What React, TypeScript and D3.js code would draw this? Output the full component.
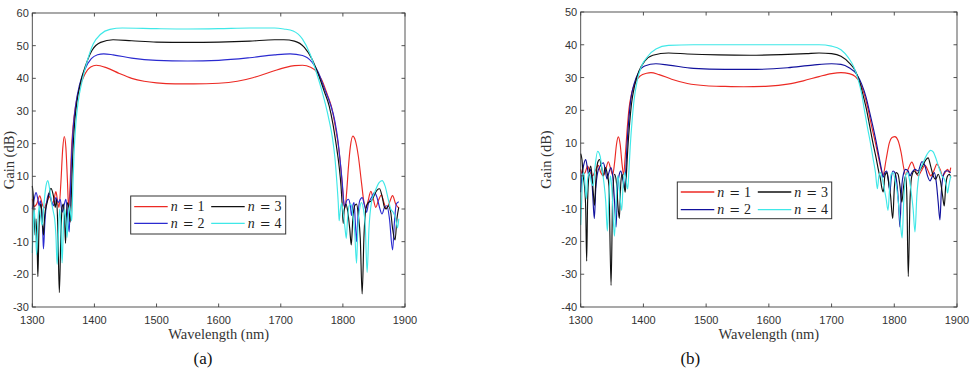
import React from 'react';
import * as d3 from 'd3';

type Pt = [number, number];

// wavelength axis (nm) and gain ticks (dB)
const wavelengthTicks = [1300, 1400, 1500, 1600, 1700, 1800, 1900];
const gainTicksA = [-30, -20, -10, 0, 10, 20, 30, 40, 50, 60];
const gainTicksB = [-40, -30, -20, -10, 0, 10, 20, 30, 40, 50];
const orders = [1, 2, 3, 4];

// panel (a) gain spectra
const gainA_n1: Pt[] = [
  [1300, 3], [1303, 0.8], [1307, 1.5], [1312, 4], [1316, 1.5], [1319, 0.3], [1323, 2], [1328, 3.8],
  [1332, 1.5], [1335, 3], [1338, 5.3], [1341, 2], [1343, 0.5], [1346, 8], [1349, 18.5], [1351.5, 22.2],
  [1354, 19], [1356.5, 9], [1358.5, 0.5], [1361, 8], [1363, 18], [1366, 26], [1370, 32], [1376, 37],
  [1384, 41], [1394, 43.5], [1403, 44], [1420, 43.2], [1440, 41.5], [1460, 40], [1480, 39.1], [1500, 38.6],
  [1530, 38.3], [1560, 38.3], [1600, 38.5], [1630, 39.1], [1655, 40.2], [1680, 41.7], [1705, 43.2],
  [1722, 43.9], [1735, 44], [1748, 43.4], [1758, 42], [1766, 39.5], [1775, 35], [1782, 31], [1788, 25],
  [1793, 19], [1797, 12], [1800, 5], [1802, 1], [1803.5, 0.3], [1806, 5], [1809, 13], [1812, 19],
  [1816, 22.3], [1820, 21], [1825, 16], [1830, 8], [1834, 2], [1837, 0.3], [1840, 2], [1845, 5.4],
  [1849, 3], [1853, 0.5], [1857, 2.5], [1862, 4.3], [1866, 2], [1870, 0.2], [1875, 2], [1880, 4.1],
  [1885, 1.5], [1890, 0.3],
];
const gainA_n2: Pt[] = [
  [1300, 0], [1303, 3], [1306, 5], [1309, 3], [1311, 1], [1313, 2.5], [1315, 0], [1317, -8], [1318, -12.2],
  [1320, -5], [1323, 2], [1327, 4.8], [1331, 2.5], [1334, 1], [1338, 3.5], [1342, 2], [1345, 3], [1348, -1],
  [1351, 1], [1354, 3], [1356, 0], [1358, -5], [1359.5, -7], [1361, 3], [1363, 15], [1366, 25], [1370, 32],
  [1376, 38], [1384, 42.5], [1395, 46], [1405, 47.2], [1415, 47.5], [1430, 47.2], [1460, 46.2], [1500, 45.5],
  [1550, 45.3], [1600, 45.5], [1650, 46.3], [1690, 47.2], [1715, 47.5], [1735, 47], [1750, 45], [1760, 42],
  [1770, 37], [1780, 32], [1787, 27], [1792, 21], [1796, 14], [1799, 8], [1801.5, 2], [1803, 0.5],
  [1806, 2.5], [1809, 3], [1812, 1], [1814, -2], [1816, 1], [1818, 2], [1820, -4], [1822, -10], [1824, -3],
  [1827, 2.5], [1831, 3.5], [1835, 1], [1838, -1], [1841, 1.5], [1846, 3.5], [1851, 5], [1855, 3.5],
  [1859, 0.5], [1863, -1.5], [1867, 0.5], [1871, 1], [1875, -3], [1880, -12.5], [1883, -4], [1886, 1.5],
  [1890, 2.2],
];
const gainA_n3: Pt[] = [
  [1300, 7.1], [1302, 3], [1304.5, -8], [1306, -3], [1308, -13], [1309, -20.7], [1310.5, -8], [1312, 0],
  [1314, 1.5], [1316, -3], [1318, -8], [1320, -2], [1324, 2], [1330, 6.3], [1334, 4], [1337, 0.5], [1339, 3],
  [1341, -5], [1343.5, -25.6], [1346, -8], [1348, 0.5], [1350, 1.5], [1352, -3], [1353.5, -10.5], [1355, -2],
  [1357, 2], [1359, 0], [1361, -4], [1363, 5], [1365, 16], [1368, 26], [1372, 33], [1378, 39], [1386, 44],
  [1396, 48.5], [1410, 51], [1430, 51.8], [1460, 51.5], [1500, 51.1], [1550, 51], [1600, 51.1], [1650, 51.4],
  [1690, 51.8], [1705, 51.8], [1722, 51.4], [1738, 49.5], [1750, 46], [1760, 41.5], [1770, 36], [1778, 31.5],
  [1784, 26], [1789, 20], [1794, 13], [1797, 7], [1799, 1], [1800.5, -4.4], [1802, -0.5], [1805, 1.5],
  [1808, -1], [1811, -6], [1813.5, -11], [1816, -3], [1819, 1], [1822, 1.5], [1825, -2], [1828, -9],
  [1831, -26], [1834, -8], [1837, 0], [1841, 2], [1846, 2.5], [1850, 4], [1855, 5.8], [1859, 6.2], [1863, 4],
  [1867, 0.5], [1870, 0], [1873, 1], [1877, -1], [1880, -6], [1884, -9.5], [1887, -3], [1890, 0.5],
];
const gainA_n4: Pt[] = [
  [1300, -13.5], [1301.5, -5], [1303, 0], [1305, -6], [1307, -14], [1309, -4], [1311, 1], [1313, -2],
  [1316, -5], [1319, 2], [1322, 7], [1325, 8.7], [1328, 6], [1331, 2], [1334, -1], [1336, -3], [1338, -8],
  [1340, -17], [1342, -8], [1344, 0], [1346, -5], [1348, -16.5], [1350, -6], [1352, 0], [1354, -3],
  [1356, -8.7], [1358, -2], [1360, 1], [1362, -2], [1363.5, -3.6], [1365, 5], [1367, 16], [1370, 26],
  [1374, 33], [1380, 39], [1388, 45], [1398, 50.5], [1410, 53.5], [1425, 55], [1445, 55.4], [1500, 55.2],
  [1550, 55.1], [1600, 55.2], [1650, 55.4], [1690, 55.4], [1705, 55.1], [1720, 54.5], [1735, 52],
  [1747, 47.5], [1757, 42], [1765, 37], [1772, 32], [1778, 27], [1783, 22], [1787, 16], [1790, 9],
  [1792.5, 2], [1794, -3.6], [1796, 0], [1798, 1.8], [1801, -2], [1803.5, -6], [1805.5, -9], [1807.5, -3],
  [1810, 1], [1813, 1.5], [1816, -2], [1819, -7], [1822, -16.6], [1824, -6], [1827, 0], [1830, 2], [1833, 0],
  [1836, -5], [1839, -19.4], [1842, -6], [1846, 2], [1852, 5.5], [1858, 8], [1863, 8.7], [1868, 7],
  [1873, 3], [1877, 0], [1881, -1], [1885, -3], [1888, -5.8], [1890, -3],
];

// panel (b) gain spectra
const gainB_n1: Pt[] = [
  [1300, 2], [1303, 0.5], [1307, 1], [1311, 3], [1315, 1], [1319, 0], [1323, 1.5], [1328, 3.2], [1332, 1],
  [1336, 0], [1340, 2], [1344, 4.3], [1348, 2], [1351, 0.3], [1354, 4], [1357, 9.5], [1360, 11.9],
  [1363, 9.5], [1366, 3.5], [1368.5, 0.3], [1371, 6], [1374, 14], [1377, 20.5], [1381, 25], [1387, 28.5],
  [1395, 30.5], [1405, 31.3], [1412, 31.5], [1425, 30.9], [1445, 29.5], [1470, 28.2], [1500, 27.5],
  [1530, 27.3], [1560, 27.2], [1600, 27.4], [1630, 28], [1655, 29], [1680, 30.3], [1700, 31.2], [1715, 31.5],
  [1728, 31.2], [1738, 30.3], [1745, 28.5], [1752, 25], [1758, 20.5], [1764, 15], [1770, 10], [1775, 5.5],
  [1779, 2], [1782, 0.3], [1787, 5], [1792, 10], [1797, 11.8], [1801, 12], [1806, 10.8], [1811, 7],
  [1815, 2.5], [1818, 0.3], [1822, 2], [1828, 4.2], [1833, 2], [1838, 0], [1843, 1.5], [1849, 3.2],
  [1854, 1.5], [1858, 0], [1863, 1.5], [1868, 3.6], [1873, 2], [1877, 0], [1881, 1], [1885, 2], [1888, 1],
  [1890, 2.5],
];
const gainB_n2: Pt[] = [
  [1300, -5], [1302, 0], [1305, 3.5], [1308, 5], [1311, 2], [1313, 0], [1315, 2], [1317, 1], [1319, -5],
  [1321.7, -13], [1324, -4], [1327, 1], [1331, 3], [1336, 4], [1339, 2], [1342, -1], [1345, 1], [1348, 2.5],
  [1351, 0], [1354, -8], [1356.3, -15.6], [1358.5, -5], [1361, 0], [1364, 1.5], [1367, -1], [1370, -4],
  [1372, 2], [1374, 10], [1377, 18], [1380, 23.5], [1385, 28], [1392, 31.5], [1402, 33.5], [1420, 34.2],
  [1440, 33.8], [1480, 32.8], [1530, 32.5], [1580, 32.5], [1630, 33], [1670, 33.8], [1700, 34.2],
  [1715, 34], [1728, 33], [1740, 31], [1748, 28], [1755, 24], [1760, 20], [1766, 15], [1771, 10.5],
  [1776, 5.5], [1780, 1.5], [1782, -0.5], [1785, 1], [1788, 1.5], [1790.5, -1], [1793, -5], [1795, -1],
  [1798, 1.5], [1801, 1], [1804, -2], [1807, -9], [1809, -15.6], [1811, -6], [1814, 0], [1818, 2],
  [1822, 1.5], [1825, 0], [1828, 1], [1833, 2], [1838, 1.5], [1844, 4.3], [1849, 3], [1853, 0],
  [1857, -1.5], [1861, 0], [1864, 1], [1867, -2], [1870, -8], [1872.8, -13.4], [1875, -5], [1878, 0],
  [1882, 1.5], [1886, 1.5], [1890, 1],
];
const gainB_n3: Pt[] = [
  [1300, 6.8], [1302, 5], [1304, 0], [1306, -3], [1308, -10], [1309.5, -26], [1311, -8], [1313, 0],
  [1316, 3], [1318, 0], [1320, -5], [1322, -9], [1324, -2], [1327, 4], [1330, 5], [1333, 3], [1336, 0],
  [1339, 2.5], [1342, 1], [1345, -3], [1348.4, -33.4], [1351, -6], [1354, 0.5], [1357, -2], [1359, -8],
  [1361.6, -13], [1364, -2], [1366, 0.5], [1368.5, -2], [1371, -5], [1373, 1], [1375, 8], [1378, 16],
  [1381, 22], [1386, 27.5], [1393, 32], [1402, 35], [1415, 36.8], [1440, 37.5], [1470, 37.2], [1520, 36.9],
  [1570, 36.8], [1620, 37], [1660, 37.3], [1680, 37.5], [1700, 37.3], [1715, 36.5], [1728, 34.5],
  [1738, 32], [1745, 28.5], [1751, 24], [1756, 20], [1761, 15], [1766, 10], [1771, 5.5], [1775, 1.5],
  [1778, -1], [1780, -3.5], [1782.4, -4.9], [1785, 0], [1788, 1], [1791, -2], [1794, -6], [1797.5, -13],
  [1800, -4], [1803, 1], [1806, 0.5], [1809, -3], [1812, -8], [1815, -3], [1818, 0], [1820, -6],
  [1822.3, -30.7], [1825, -8], [1828, 0], [1832, 1.5], [1836, 0.5], [1840, 1.5], [1845, 3], [1850, 4.8],
  [1854, 5.5], [1858, 3], [1862, 0], [1866, -1], [1870, 0.5], [1874, -2], [1877, -6], [1879.7, -9.2],
  [1882, -3], [1885, 0], [1888, 0.5], [1890, -0.5],
];
const gainB_n4: Pt[] = [
  [1300, -15], [1301.5, -8], [1303, 0], [1305, 1], [1307, -3], [1309, -7], [1311, -1], [1314, 1],
  [1317, -2], [1320, -3], [1323, 3], [1327, 7.5], [1331, 6], [1334, 2], [1337, -2], [1340, -8],
  [1342.5, -16.8], [1345, -6], [1347.5, 0], [1350, -5], [1353.7, -18.4], [1356.5, -8], [1359, 0],
  [1361, -2], [1363, -7], [1365.4, -10.5], [1367.5, -3], [1370, 1], [1372, -1], [1375, -4], [1377, 2],
  [1379, 9], [1382, 17], [1385, 23], [1390, 29], [1397, 33.5], [1407, 36.5], [1420, 38.7], [1440, 39.8],
  [1480, 40], [1560, 40], [1640, 40], [1680, 40], [1700, 39.6], [1715, 38.5], [1727, 36], [1736, 33],
  [1743, 29], [1748, 25], [1752, 20.5], [1757, 15], [1762, 10], [1766, 5.5], [1770, 1], [1773, -3.9],
  [1775.5, 0], [1778, 1], [1781, -1], [1784, -4], [1787, -7], [1790, -10.5], [1792.5, -4], [1795, 0.5],
  [1798, 1], [1801, -1], [1804, -4], [1807, -9], [1810, -15], [1812.5, -18.9], [1815, -8], [1818, 0],
  [1821, 1], [1824, -1], [1827, -5], [1830, -10], [1833, -17.1], [1836, -6], [1840, 1], [1846, 4],
  [1852, 6.5], [1858, 7.8], [1862, 7.3], [1867, 5], [1872, 2], [1876, 0], [1880, -1], [1883, -3],
  [1885, -5.2], [1887, -3], [1890, 0],
];

const colorsA = ['#ec2a24', '#2b2bd0', '#111111', '#3fe8e8'];
const colorsB = ['#ec2a24', '#12129e', '#111111', '#3fe8e8'];

interface PanelProps {
  series: Pt[][];
  colors: string[];
  yDomain: [number, number];
  yTicks: number[];
  left: number;
  right: number;
  top: number;
  bottom: number;
  legend: { x: number; y: number; w: number; h: number; row1: number; row2: number };
  caption: string;
  captionX: number;
  ylabelX: number;
}

const axisColor = '#404040';
const tickFont = '"Liberation Sans", Arial, sans-serif';
const serifFont = '"Liberation Serif", "Times New Roman", serif';

function Panel(props: PanelProps) {
  const { left, right, top, bottom, legend } = props;
  const x = d3.scaleLinear().domain([1300, 1900]).range([left, right]);
  const y = d3.scaleLinear().domain(props.yDomain).range([bottom, top]);
  const line = d3
    .line<Pt>()
    .x(d => x(d[0]))
    .y(d => y(d[1]))
    .curve(d3.curveMonotoneX);
  const tick = 3.5;

  // legend fills column-wise: n=1, n=2 left, n=3, n=4 right
  const legendItems = orders.map((n, i) => {
    const col = Math.floor(i / 2);
    const row = i % 2;
    const lx = legend.x + 3.5 + col * 77;
    const ly = legend.y + (row === 0 ? legend.row1 : legend.row2);
    return { n, color: props.colors[i], lx, ly };
  });

  return (
    <g>
      <rect x={left} y={top} width={right - left} height={bottom - top} fill="#fff" />
      <g fill="none" strokeWidth={1.15} strokeLinejoin="round">
        {props.series.map((s, i) => (
          <path key={i} d={line(s) || ''} stroke={props.colors[i]} />
        ))}
      </g>

      {/* box with inward ticks on all four sides */}
      <rect
        x={left}
        y={top}
        width={right - left}
        height={bottom - top}
        fill="none"
        stroke={axisColor}
        strokeWidth={0.9}
      />
      {wavelengthTicks.map(t => (
        <g key={t}>
          <line x1={x(t)} x2={x(t)} y1={bottom} y2={bottom - tick} stroke={axisColor} strokeWidth={0.9} />
          <line x1={x(t)} x2={x(t)} y1={top} y2={top + tick} stroke={axisColor} strokeWidth={0.9} />
          <text
            x={x(t)}
            y={bottom + 16.5}
            textAnchor="middle"
            fontFamily={tickFont}
            fontSize={11}
            fill="#333"
          >
            {t}
          </text>
        </g>
      ))}
      {props.yTicks.map(t => (
        <g key={t}>
          <line x1={left} x2={left + tick} y1={y(t)} y2={y(t)} stroke={axisColor} strokeWidth={0.9} />
          <line x1={right} x2={right - tick} y1={y(t)} y2={y(t)} stroke={axisColor} strokeWidth={0.9} />
          <text
            x={left - 3.5}
            y={y(t) + 4}
            textAnchor="end"
            fontFamily={tickFont}
            fontSize={11}
            fill="#333"
          >
            {String(t)}
          </text>
        </g>
      ))}

      <text
        x={(left + right) / 2}
        y={bottom + 32}
        textAnchor="middle"
        fontFamily={serifFont}
        fontSize={14.5}
        fill="#333"
      >
        Wavelength (nm)
      </text>
      <text
        transform={`translate(${props.ylabelX},${(top + bottom) / 2}) rotate(-90)`}
        textAnchor="middle"
        fontFamily={serifFont}
        fontSize={14.5}
        fill="#333"
      >
        Gain (dB)
      </text>
      <text
        x={props.captionX}
        y={363.5}
        textAnchor="middle"
        fontFamily={serifFont}
        fontSize={17}
        fill="#111"
      >
        {props.caption}
      </text>

      {/* legend */}
      <rect
        x={legend.x}
        y={legend.y}
        width={legend.w}
        height={legend.h}
        fill="#fff"
        stroke="#333"
        strokeWidth={1}
      />
      {legendItems.map(d => (
        <g key={d.n} fontFamily={serifFont} fontSize={14} fill="#222">
          <line x1={d.lx} x2={d.lx + 33.5} y1={d.ly} y2={d.ly} stroke={d.color} strokeWidth={1.3} />
          <text x={d.lx + 36.5} y={d.ly + 4.5} fontStyle="italic">
            n
          </text>
          <text
            x={d.lx + 54}
            y={d.ly + 4.5}
            textAnchor="middle"
            fontFamily='"DejaVu Serif", serif'
            fontSize={13}
          >
            =
          </text>
          <text x={d.lx + 66.7} y={d.ly + 4.5} textAnchor="middle">
            {d.n}
          </text>
        </g>
      ))}
    </g>
  );
}

export default function App() {
  return (
    <svg
      width={974}
      height={378}
      viewBox="0 0 974 378"
      style={{ position: 'absolute', left: 0, top: 0, background: '#fff' }}
    >
      <rect width={974} height={378} fill="#fff" />
      <Panel
        series={[gainA_n1, gainA_n2, gainA_n3, gainA_n4]}
        colors={colorsA}
        yDomain={[-30, 60]}
        yTicks={gainTicksA}
        left={32.3}
        right={405}
        top={13}
        bottom={307}
        legend={{ x: 130.7, y: 196, w: 155, h: 38, row1: 10.7, row2: 27.3 }}
        caption="(a)"
        captionX={203}
        ylabelX={13.5}
      />
      <Panel
        series={[gainB_n1, gainB_n2, gainB_n3, gainB_n4]}
        colors={colorsB}
        yDomain={[-40, 50]}
        yTicks={gainTicksB}
        left={580.7}
        right={957}
        top={12}
        bottom={307}
        legend={{ x: 677.3, y: 182, w: 154.4, h: 36.7, row1: 10, row2: 27.7 }}
        caption="(b)"
        captionX={690.3}
        ylabelX={550.5}
      />
    </svg>
  );
}
